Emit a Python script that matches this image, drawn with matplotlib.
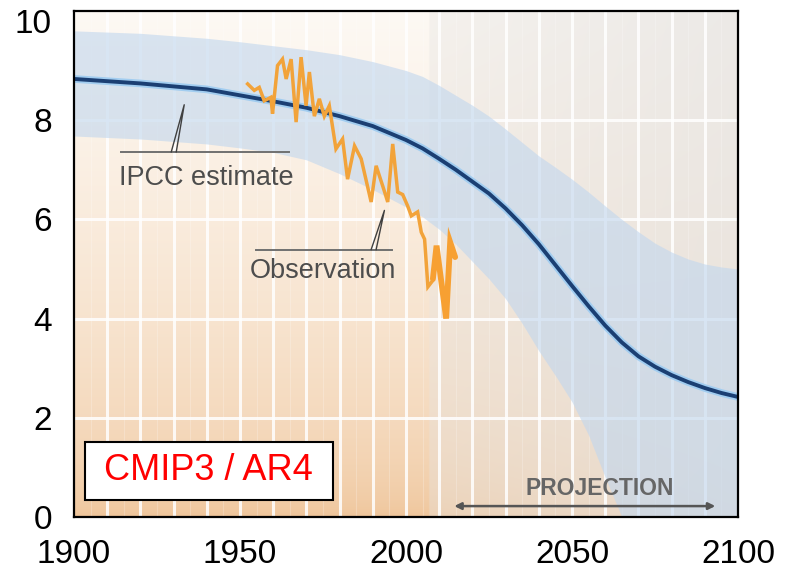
import numpy as np
import matplotlib
matplotlib.use("Agg")
import matplotlib.pyplot as plt
from matplotlib.patches import Rectangle

plt.rcParams['font.family'] = ['Liberation Sans', 'DejaVu Sans']

# ---------------- data ----------------
model_years = [1900, 1920, 1940, 1950, 1960, 1970, 1980, 1990, 2000, 2005, 2010,
               2015, 2020, 2025, 2030, 2035, 2040, 2045, 2050, 2055, 2060, 2065,
               2070, 2075, 2080, 2085, 2090, 2095, 2100]
model_mean = [8.83, 8.74, 8.62, 8.50, 8.38, 8.25, 8.08, 7.88, 7.60, 7.43, 7.22,
              7.00, 6.76, 6.52, 6.22, 5.88, 5.50, 5.08, 4.66, 4.25, 3.86, 3.52,
              3.24, 3.03, 2.86, 2.72, 2.60, 2.50, 2.42]
model_upper = [9.80, 9.75, 9.65, 9.58, 9.50, 9.42, 9.32, 9.18, 9.00, 8.88, 8.70,
               8.50, 8.30, 8.08, 7.82, 7.55, 7.28, 7.05, 6.81, 6.55, 6.27, 6.00,
               5.75, 5.52, 5.34, 5.20, 5.10, 5.04, 5.00]
model_lower = [7.68, 7.62, 7.52, 7.44, 7.35, 7.20, 6.92, 6.60, 6.25, 6.05, 5.80,
               5.50, 5.15, 4.80, 4.40, 3.90, 3.35, 2.85, 2.32, 1.65, 0.80, 0.00,
               0.00, 0.00, 0.00, 0.00, 0.00, 0.00, 0.00]

obs_years = [1952.3, 1954.3, 1955.8, 1957.3, 1959.3, 1959.8, 1961.3, 1962.8, 1963.9,
             1965.4, 1966.9, 1968.4, 1969.9, 1970.9, 1972.4, 1973.9, 1975.4, 1976.9,
             1978.9, 1980.9, 1982.4, 1984.5, 1986.5, 1989.5, 1991.0, 1993.0, 1994.5,
             1996.0, 1997.5, 1999.0, 2000.5, 2001.6, 2003.5, 2004.6, 2005.6, 2006.6, 2008.1]
obs_values = [8.73, 8.60, 8.66, 8.39, 8.46, 8.13, 9.10, 9.23, 8.83,
              9.23, 7.96, 9.27, 8.29, 8.97, 8.08, 8.43, 8.08, 8.29,
              7.42, 7.62, 6.81, 7.48, 7.22, 6.35, 7.08, 6.67, 6.35,
              7.52, 6.55, 6.50, 6.27, 6.07, 6.15, 5.74, 5.60, 4.64, 4.77]

recent_years = [2008.1, 2009.2, 2012.1, 2013.3, 2014.8]
recent_values = [4.80, 5.47, 4.00, 5.54, 5.24]

x_ticks = [1900, 1950, 2000, 2050, 2100]
y_ticks = [0, 2, 4, 6, 8, 10]

# ---------------- figure ----------------
fig = plt.figure(figsize=(7.87, 5.73), dpi=100)
ax = fig.add_axes([74/787, 1-517/573, (738-74)/787, (517-11)/573])
x0, x1, y0, y1 = 1900, 2100, 0, 10.2
ax.set_xlim(x0, x1)
ax.set_ylim(y0, y1)

# background gradient
H, W = 300, 400
yy = np.linspace(0, 1, H)[:, None]          # 0 bottom, 1 top
xx = np.linspace(0, 1, W)[None, :]
top = np.array([253, 249, 244]) / 255
bot = np.array([239, 196, 152]) / 255
t = np.clip(yy, 0, 1) ** 0.55
left = bot * (1 - t[..., None]) + top * t[..., None]
left = np.broadcast_to(left, (H, W, 3)).copy()
grey = np.array([230, 228, 226]) / 255
xsplit = (2007 - x0) / (x1 - x0)
mix = np.where(xx > xsplit, 0.38 + 0.35 * (xx - xsplit) / (1 - xsplit), 0.0)
img = left * (1 - mix[..., None]) + grey * mix[..., None]
ax.imshow(img, extent=[x0, x1, y0, y1], origin='lower', aspect='auto',
          zorder=0, interpolation='bilinear')

# white grid
for gx in range(1910, 2100, 10):
    ax.axvline(gx, color='white', lw=2.2, alpha=0.85, zorder=1)
for gx in range(1905, 2100, 10):
    ax.axvline(gx, color='white', lw=0.8, alpha=0.22, zorder=1)
for gy in [2, 4, 6, 8]:
    ax.axhline(gy, color='white', lw=2.2, alpha=0.85, zorder=1)

# model band and mean
ax.fill_between(model_years, model_lower, model_upper, color='#c2d7ee',
                alpha=0.62, lw=0, zorder=2)
ax.plot(model_years, model_mean, color='#a2cdf0', lw=5.5, zorder=3,
        solid_capstyle='butt')
ax.plot(model_years, model_mean, color='#1b3f73', lw=2.8, zorder=4,
        solid_capstyle='butt')

# observations
ax.plot(obs_years, obs_values, color='#f2a33a', lw=2.5, zorder=5,
        solid_joinstyle='miter')
ax.plot(recent_years, recent_values, color='#f7a032', lw=4.2, zorder=6,
        solid_capstyle='round', solid_joinstyle='miter')

# labels with leader lines
lab_col = '#4d4d4d'
ax.text(1913.6, 6.69, 'IPCC estimate', fontsize=19.5, color=lab_col,
        ha='left', va='baseline', zorder=7)
ax.plot([1914.2, 1964.9], [7.36, 7.36], color='#707070', lw=1.4, zorder=7)
ax.plot([1929.3, 1933.2, 1930.8], [7.36, 8.31, 7.36], color='#404040', lw=1.0, zorder=7)

ax.text(1952.8, 4.82, 'Observation', fontsize=19.5, color=lab_col,
        ha='left', va='baseline', zorder=7)
ax.plot([1954.9, 1995.9], [5.39, 5.39], color='#707070', lw=1.4, zorder=7)
ax.plot([1989.5, 1993.5, 1991.0], [5.39, 6.18, 5.39], color='#404040', lw=1.0, zorder=7)

# projection arrow
ax.annotate('', xy=(2013.7, 0.22), xytext=(2094.0, 0.22),
            arrowprops=dict(arrowstyle='<|-|>', color='#555555', lw=1.8,
                            mutation_scale=10), zorder=7)
ax.text(2058.4, 0.58, 'PROJECTION', fontsize=16.5, color='#666666',
        fontweight='bold', ha='center', va='center', zorder=7)

# CMIP3 / AR4 box
ax.add_patch(Rectangle((0.0166, 0.0336), 0.3734, 0.1144, transform=ax.transAxes,
                       facecolor='white', edgecolor='black', lw=1.5, zorder=8))
ax.text(0.203, 0.091, 'CMIP3 / AR4', transform=ax.transAxes, fontsize=26,
        color='#ff0000', ha='center', va='center', zorder=9)

# axes styling
ax.set_xticks(x_ticks)
ax.set_yticks(y_ticks)
ax.tick_params(axis='both', length=0, labelsize=24)
ax.tick_params(axis='x', pad=16)
ax.tick_params(axis='y', pad=16)
for s in ax.spines.values():
    s.set_linewidth(1.6)
    s.set_color('black')
    s.set_zorder(10)

fig.savefig('out.png', dpi=100)
